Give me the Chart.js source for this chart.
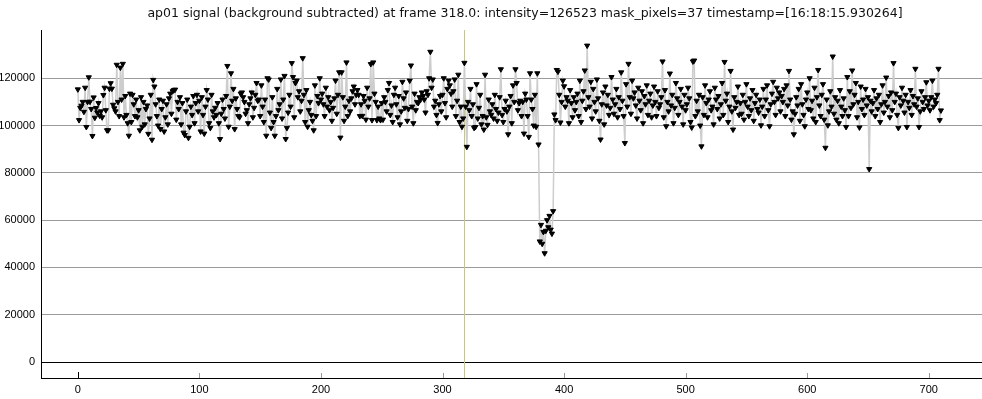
<!DOCTYPE html>
<html><head><meta charset="utf-8">
<script src="https://cdn.jsdelivr.net/npm/chart.js@4/dist/chart.umd.min.js"></script>
<style>html,body{margin:0;padding:0;background:#fff;overflow:hidden}#wrap{width:982px;height:399px;position:relative}</style>
</head><body><div id="wrap"><canvas id="c" width="982" height="399"></canvas></div>
<script>
const titleText = "ap01 signal (background subtracted) at frame 318.0: intensity=126523 mask_pixels=37 timestamp=[16:18:15.930264]";
const currentFrame = 318;
const xTickValues = [0, 100, 200, 300, 400, 500, 600, 700];
const yTickValues = [0, 20000, 40000, 60000, 80000, 100000, 120000];
// intensity per frame, frames 0..710
const intensity = [
115300,102300,107500,108400,110000,105800,116000,99400,110000,120400,
110100,107000,95600,111900,103300,107400,105500,109500,104200,106000,
103500,112900,116000,106500,98000,98000,115600,117900,115600,108800,
107300,106000,125700,110000,104000,124500,111000,126100,103500,112500,
104500,101000,95700,113500,101500,113000,109000,104000,111000,103500,
106500,98000,112000,99500,110000,100500,107000,108500,96500,103000,
113000,94000,119300,116500,109000,104000,100000,111000,98500,107000,
110500,97500,103500,109000,100500,111500,113500,105000,114500,115000,
115200,102500,110000,107000,112000,100500,109500,97000,96000,106000,
111000,94800,99500,108000,104500,112500,101000,109500,113000,106000,
110500,97500,112000,104500,96600,108000,115000,111000,101000,99000,
113000,106000,103500,107500,104500,109500,101000,94300,105000,111000,
107000,103000,112500,125200,99500,108000,122100,110500,115500,98500,
111500,107000,104000,103500,113500,114000,112000,110000,105000,106500,
101000,109000,111500,114000,103500,107500,113000,118000,110500,111000,
104000,117000,108000,101500,111000,95700,120000,119500,105500,99000,
112000,101500,95700,104000,115500,106500,109000,119500,103000,111000,
121000,94300,99000,105500,113000,108000,126400,120500,103500,118000,
119000,112000,114500,106000,110500,128500,113000,101500,115000,99500,
106500,110000,104500,102000,98000,117000,104000,112500,109500,120000,
111000,113500,109000,104000,116000,108000,112000,106500,110000,102000,
107500,111500,119000,105000,113000,122500,94900,122500,112000,102000,
108000,126700,104000,110500,106000,111500,114500,116500,109000,113000,
115000,113000,104000,109000,104100,112500,110500,102500,116000,108000,
111500,126000,102300,126700,113500,110000,102300,108000,103000,102300,
109500,102500,112000,110000,106000,115000,118000,104500,108500,101500,
113000,116000,109000,103500,112500,100500,106000,118500,111500,107500,
114000,102000,107000,119000,125400,108000,101000,113500,106500,110000,
109500,112000,111000,114000,112500,111000,105500,114500,113000,120000,
131200,116000,119500,108000,110500,104500,101100,109000,112500,106000,
113000,120000,109500,103500,115500,119000,117000,113500,108000,114500,
119500,104000,110500,121500,101500,108000,99500,103000,126523,108000,
91000,110000,106500,115500,104000,109000,99000,99400,117500,103000,
107500,113000,100500,104000,98300,121500,103500,100300,111000,106000,
104500,109000,103000,113000,107000,102000,105500,112000,123800,104500,
101500,107000,110500,106000,96300,108000,112500,101000,117000,110000,
123800,118000,106500,109500,110500,104000,110000,96600,113500,111000,
104000,95200,122100,111000,107000,100000,113000,99500,122100,92000,
51000,58000,50000,55000,46000,55500,60000,57000,61800,56000,
54300,63800,104700,102300,123500,122800,113000,101300,110000,119000,
116600,108000,112000,110500,101000,115000,109500,103500,112000,106500,
110000,113500,104000,119000,101500,110500,114500,123300,107000,133800,
112000,108000,118500,103000,115500,110000,106000,119500,111500,102000,
94100,109000,114000,100500,116500,108500,113000,104500,107500,120500,
111000,105000,109000,115500,103500,112000,107000,122500,110500,104000,
92600,117500,108000,126100,112000,105000,119000,111500,114000,108500,
103000,116000,110500,106500,114500,101000,112500,109000,117000,104500,
110500,113500,103500,108500,116500,110000,104000,114500,107500,109000,
112000,127100,103500,115000,99700,110000,106000,122000,108500,113000,
101000,107500,118000,111500,104500,110000,115500,108000,100500,113000,
106500,109000,116000,111500,101500,99200,127100,127500,104000,110500,
106000,113000,100000,91200,112000,104500,117000,109500,103500,111000,
114500,106500,108000,100500,116000,111000,107000,112500,103000,109000,
118000,104500,126900,110500,113500,101500,108000,123100,106000,98300,
112000,107500,110000,116500,104500,109500,105000,113000,102500,110000,
117500,108000,104000,111500,106500,115000,102000,109500,113000,107000,
105500,111000,100100,108000,115500,104000,111000,117000,106500,99700,
109000,113500,118500,110000,104500,116000,111500,114000,106000,112500,
110000,115500,104000,117000,108500,123100,111000,102500,106000,96300,
105000,112000,108500,115500,102000,117500,109000,104500,99700,111000,
114000,107000,120000,106500,110500,103000,116000,101500,112000,123500,
108500,104000,113000,117500,102500,90600,111000,100100,106000,114500,
108000,129200,105000,112000,102500,110500,101000,115000,108000,104000,
111500,106500,99400,120500,104000,114500,107500,123300,109000,113000,
118000,103500,110000,99200,116500,107000,111000,104500,115500,108500,
112000,81600,110500,106000,109500,115000,104000,111500,107000,113000,
101500,109000,117000,105500,110000,120300,108000,112500,103500,114000,
106500,126400,110000,113500,104500,99000,112000,108500,116000,110500,
105500,113000,99400,110000,107500,115000,104500,112500,109000,124000,
108000,111500,99400,106000,114500,110000,107000,112000,118300,108500,
110500,106500,112000,119000,108000,111000,109500,113000,124000,102300,
106400
];

const points = intensity.map((v, i) => ({ x: i, y: v }));
const FONT = "'Liberation Sans', Arial, sans-serif";
const TITLE_FONT = "'DejaVu Sans', Verdana, sans-serif";

const extras = {
  id: 'extras',
  beforeDatasetsDraw(chart) {
    const { ctx, chartArea, scales } = chart;
    const px = Math.round(scales.x.getPixelForValue(currentFrame)) + 0.5;
    ctx.save();
    ctx.strokeStyle = '#c8c87a';
    ctx.lineWidth = 1;
    ctx.beginPath();
    ctx.moveTo(px, chartArea.top);
    ctx.lineTo(px, chartArea.bottom);
    ctx.stroke();
    ctx.restore();
  },
  afterDraw(chart) {
    const { ctx, chartArea, scales } = chart;
    ctx.save();
    scales.x.ticks.forEach(t => {
      const px = Math.round(scales.x.getPixelForValue(t.value)) + 0.5;
      ctx.strokeStyle = t.value === 0 ? '#000' : '#999';
      ctx.lineWidth = 1;
      ctx.beginPath();
      ctx.moveTo(px, chartArea.bottom);
      ctx.lineTo(px, chartArea.bottom - (t.value === 0 ? 6 : 5));
      ctx.stroke();
    });
    ctx.fillStyle = '#111';
    ctx.font = "12.5px " + TITLE_FONT;
    ctx.textAlign = 'center';
    ctx.textBaseline = 'middle';
    ctx.fillText(titleText, 525, 14);
    ctx.restore();
  }
};

new Chart(document.getElementById('c'), {
  type: 'line',
  data: {
    datasets: [{
      data: points,
      borderColor: '#cdcdcd',
      borderWidth: 1.5,
      pointStyle: 'triangle',
      rotation: 180,
      pointRadius: 3,
      pointBackgroundColor: '#000',
      pointBorderColor: '#000',
      pointBorderWidth: 1,
      tension: 0,
      fill: false
    }]
  },
  options: {
    responsive: false,
    animation: false,
    devicePixelRatio: 1,
    layout: { autoPadding: false, padding: { top: 30, left: 0, right: 0, bottom: 0 } },
    plugins: { legend: { display: false }, tooltip: { enabled: false }, title: { display: false } },
    scales: {
      x: {
        type: 'linear',
        min: -30.3,
        max: 743.8,
        afterBuildTicks: s => { s.ticks = xTickValues.map(v => ({ value: v })); },
        afterFit: s => { s.height = 21; },
        ticks: { color: '#000', font: { family: FONT, size: 11 }, padding: 5, maxRotation: 0, autoSkip: false, callback: v => String(v) },
        grid: { drawOnChartArea: false, drawTicks: false },
        border: { color: '#000', width: 1 }
      },
      y: {
        min: -6760,
        max: 140400,
        afterBuildTicks: s => { s.ticks = yTickValues.map(v => ({ value: v })); },
        afterFit: s => { s.width = 41; },
        ticks: { color: '#000', font: { family: FONT, size: 11 }, padding: 6, callback: v => String(v) },
        grid: { color: c => (c.tick && c.tick.value === 0) ? '#000' : '#9b9b9b', drawTicks: false, lineWidth: 1 },
        border: { color: '#000', width: 1 }
      }
    }
  },
  plugins: [extras]
});
</script>
</body></html>
